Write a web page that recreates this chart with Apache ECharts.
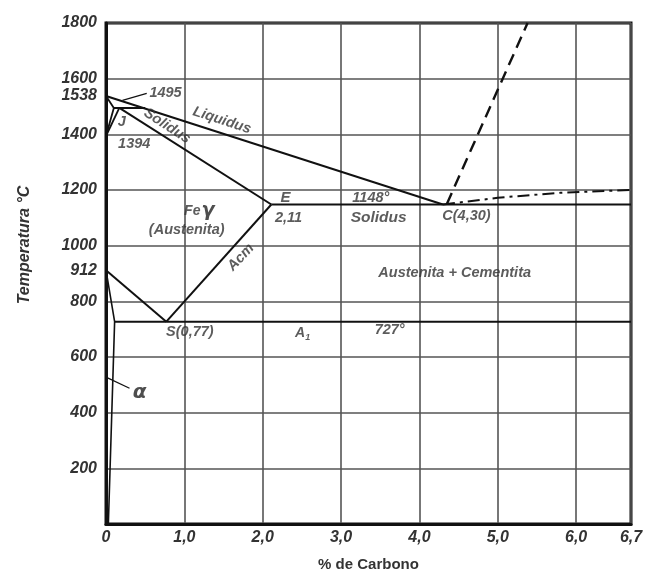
<!DOCTYPE html>
<html>
<head>
<meta charset="utf-8">
<title>Diagrama Fe-C</title>
<script src="https://cdn.jsdelivr.net/npm/echarts@6/dist/echarts.min.js"></script>
<style>
  html, body { margin: 0; padding: 0; background: #fff; }
  #chart { width: 660px; height: 574px; }
</style>
</head>
<body>
<div id="chart"></div>
<script>
// 刻度标签
const xTicks = [0, 1, 2, 3, 4, 5, 6, 6.7];
const yTicks = [200, 400, 600, 800, 912, 1000, 1200, 1400, 1538, 1600, 1800];

// 相界线 [%C, °C]
const liquidus = [[0, 1538], [4.3, 1148]];
const solidus = [[0.17, 1495], [2.11, 1148]];
const peritectic = [[0.1, 1495], [0.5, 1495]];
const deltaA = [[0, 1538], [0.1, 1495], [0, 1394]];
const deltaB = [[0.17, 1495], [0, 1394]];
const eutectic = [[2.11, 1148], [6.7, 1148]];
const eutectoid = [[0.11, 727], [6.7, 727]];
const acm = [[0.77, 727], [2.11, 1148]];
const a3 = [[0, 912], [0.77, 727]];
const alphaLine = [[0, 912], [0.11, 727], [0.03, 0]];
const graphiteLiq = [[4.35, 1150], [5.38, 1800]];
const graphiteEut = [[4.3, 1148], [5.0, 1172], [5.8, 1190], [6.7, 1200]];

// 引线
const lead1495 = [[0.21, 1522], [0.52, 1547]];
const leadAlpha = [[0.02, 525], [0.3, 488]];

// 注释文字
const notes = [
  { text: "1495", at: [0.76, 1547] },
  { text: "J", at: [0.2, 1443] },
  { text: "1394", at: [0.36, 1367] },
  { text: "Liquidus", at: [1.48, 1450], rotate: -18 },
  { text: "Solidus", at: [0.78, 1430], rotate: -33 },
  { text: "E", at: [2.29, 1170], size: 15 },
  { text: "2,11", at: [2.33, 1098] },
  { text: "1148°", at: [3.38, 1170] },
  { text: "Solidus", at: [3.48, 1102], size: 15.5 },
  { text: "C(4,30)", at: [4.6, 1106] },
  { text: "{a|Fe}{b|γ}", at: [1.19, 1123] },
  { text: "(Austenita)", at: [1.03, 1057] },
  { text: "Acm", at: [1.72, 958], rotate: 47 },
  { text: "Austenita + Cementita", at: [4.45, 901] },
  { text: "S(0,77)", at: [1.07, 691] },
  { text: "{a|A}{s|1}", at: [2.51, 687] },
  { text: "727°", at: [3.62, 696] },
  { text: "{g|α}", at: [0.43, 470] }
];

const chart = echarts.init(document.getElementById("chart"));

const fontFam = "'Liberation Sans', Arial, sans-serif";
const ink = "#111";

// 画线
function line(data, width, type) {
  return {
    type: "line",
    data: data,
    symbol: "none",
    silent: true,
    clip: false,
    lineStyle: { color: ink, width: width || 2, type: type || "solid" },
    z: 3
  };
}

const series = [
  line(liquidus),
  line(solidus),
  line(peritectic),
  line(deltaA, 1.8),
  line(deltaB, 1.8),
  line(eutectic),
  line(eutectoid),
  line(acm),
  line(a3),
  line(alphaLine, 1.6),
  line(graphiteLiq, 2.4, [12, 7]),
  line(graphiteEut, 2, [12, 5, 3, 5]),
  line(lead1495, 1.2),
  line(leadAlpha, 1.2),
  {
    type: "scatter",
    silent: true,
    symbolSize: 0,
    z: 4,
    data: notes.map(function (n) {
      return {
        value: n.at,
        name: n.text,
        label: {
          rotate: n.rotate || 0,
          fontSize: n.size || 14.5
        }
      };
    }),
    label: {
      show: true,
      position: "inside",
      formatter: function (p) { return p.name; },
      color: "#333",
      fontFamily: fontFam,
      fontStyle: "italic",
      fontWeight: "bold",
      fontSize: 14.5,
      rich: {
        a: { fontSize: 14, fontStyle: "italic", fontWeight: "bold", color: "#333", fontFamily: fontFam },
        b: { fontSize: 19, fontWeight: "bold", color: "#222", fontFamily: "'DejaVu Sans', sans-serif", padding: [0, 0, 0, 1] },
        s: { fontSize: 9, fontStyle: "italic", fontWeight: "bold", color: "#333", fontFamily: fontFam, padding: [9, 0, 0, 0] },
        g: { fontSize: 20, fontWeight: "bold", color: "#222", fontFamily: "'DejaVu Sans', sans-serif" }
      }
    }
  }
];

chart.setOption({
  animation: false,
  backgroundColor: "#fff",
  grid: {
    left: 106,
    right: 29,
    top: 23,
    bottom: 50,
    outerBoundsMode: "none",
    containLabel: false,
    show: true,
    borderColor: ink,
    borderWidth: 3
  },
  xAxis: {
    type: "value",
    min: 0,
    max: 6.7,
    interval: 1,
    name: "% de Carbono",
    nameLocation: "middle",
    nameGap: 33,
    nameTextStyle: { fontFamily: fontFam, fontWeight: "bold", fontSize: 15, color: "#333" },
    axisLine: { show: true, lineStyle: { color: ink, width: 3 } },
    axisTick: { show: false },
    splitLine: { show: true, lineStyle: { color: "#555", width: 1.6 } },
    axisLabel: {
      customValues: xTicks,
      margin: 6,
      fontFamily: fontFam,
      fontStyle: "italic",
      fontWeight: "bold",
      fontSize: 16,
      color: "#333",
      formatter: function (v) { return v === 0 ? "0" : v.toFixed(1).replace(".", ","); }
    }
  },
  yAxis: {
    type: "value",
    min: 0,
    max: 1800,
    interval: 200,
    axisLine: { show: true, lineStyle: { color: ink, width: 3 } },
    axisTick: { show: false },
    splitLine: { show: true, lineStyle: { color: "#555", width: 1.6 } },
    axisLabel: {
      customValues: yTicks,
      margin: 9,
      fontFamily: fontFam,
      fontStyle: "italic",
      fontWeight: "bold",
      fontSize: 16,
      color: "#333",
      formatter: function (v) { return String(v); }
    }
  },
  graphic: [
    {
      type: "text",
      x: 25,
      y: 245,
      rotation: Math.PI / 2,
      style: {
        text: "Temperatura °C",
        fontFamily: fontFam,
        fontStyle: "italic",
        fontWeight: "bold",
        fontSize: 16,
        fill: "#333",
        align: "center",
        verticalAlign: "middle"
      }
    }
  ],
  series: series
});
</script>
</body>
</html>
